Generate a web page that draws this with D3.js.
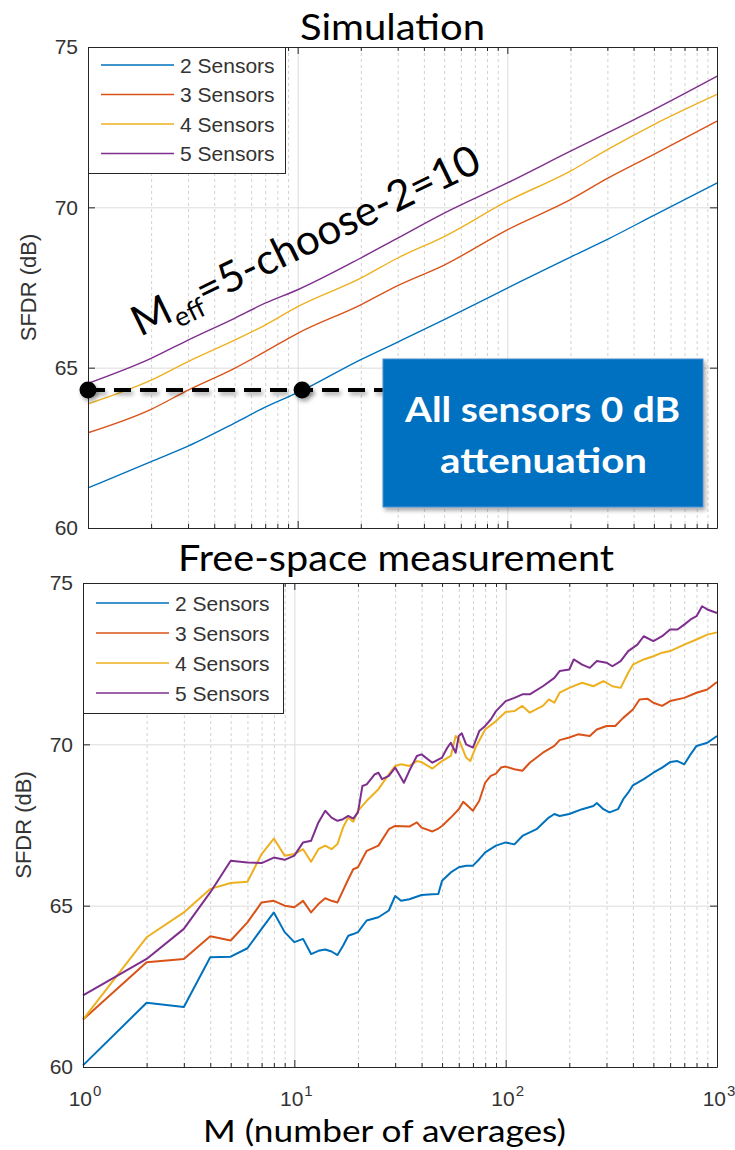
<!DOCTYPE html>
<html>
<head>
<meta charset="utf-8">
<script src="https://cdn.jsdelivr.net/npm/d3@7"></script>
<style>
  body { margin: 0; background: #fff; }
  svg { display: block; }
</style>
</head>
<body>
<svg id="chart" width="735" height="1150"></svg>
<script>
// ---- Series names and colours ----
const seriesNames = ["2 Sensors", "3 Sensors", "4 Sensors", "5 Sensors"];
const seriesColors = ["#0072BD", "#D95319", "#EDB120", "#7E2F8E"];

// ---- Axis ticks ----
const yTicks = [60, 65, 70, 75];
const xMajorTicks = [1, 10, 100, 1000];
const xTickExponents = ["0", "1", "2", "3"];

// ---- Simulation (SFDR in dB vs number of averages M) ----
const simM = [1, 2, 3, 5, 7, 10, 20, 30, 50, 100, 200, 300, 500, 1000];
const sim2 = [61.25, 62.07, 62.55, 63.27, 63.77, 64.22, 65.25, 65.8, 66.5, 67.48, 68.45, 69.0, 69.75, 70.76];
const sim3 = [62.97, 63.7, 64.3, 64.98, 65.5, 66.07, 66.96, 67.56, 68.2, 69.3, 70.24, 70.9, 71.65, 72.69];
const sim4 = [63.87, 64.61, 65.19, 65.86, 66.33, 66.9, 67.79, 68.42, 69.09, 70.19, 71.13, 71.8, 72.58, 73.52];
const sim5 = [64.51, 65.29, 65.86, 66.54, 67.01, 67.43, 68.42, 69.04, 69.82, 70.76, 71.75, 72.32, 73.05, 74.09];

// ---- Free-space measurement ----
const measM2 = [1,2,3,4,5,6,7,8,9,10,11,12,13,14,15,16,17,18,19,20,22,25,28,30,32,35,40,45,48,50,55,60,65,70,75,80,90,100,110,120,140,160,170,180,200,230,260,270,290,310,340,360,380,400,450,500,550,600,650,700,750,800,900,1000];
const meas2 = [60.05,61.99,61.86,63.40,63.42,63.68,64.28,64.79,64.18,63.87,63.97,63.5,63.6,63.64,63.58,63.47,63.76,64.07,64.12,64.18,64.54,64.64,64.85,65.3,65.15,65.2,65.33,65.35,65.36,65.77,66.03,66.19,66.24,66.24,66.44,66.65,66.86,66.96,66.9,67.16,67.37,67.73,67.84,67.78,67.84,67.99,68.09,68.18,67.99,67.89,67.99,68.3,68.5,68.73,68.92,69.12,69.28,69.45,69.48,69.38,69.69,69.95,70.05,70.26];

const measM3 = [1,2,3,4,5,6,7,8,9,10,11,12,13,14,15,16,18,19,20,22,25,28,30,35,38,40,45,48,50,55,60,63,70,75,80,85,90,95,100,110,120,130,150,170,180,200,220,250,270,300,330,360,400,430,470,500,550,600,700,800,900,1000];
const meas3 = [61.47,63.25,63.35,64.05,63.92,64.48,65.1,65.15,65.0,64.95,65.15,64.79,65.05,65.23,65.15,65.1,65.82,66.13,66.19,66.7,66.86,67.37,67.47,67.45,67.58,67.42,67.3,67.39,67.47,67.73,67.99,68.22,67.94,68.25,68.81,69.02,69.09,69.28,69.31,69.23,69.18,69.43,69.74,69.95,70.13,70.21,70.31,70.26,70.46,70.57,70.57,70.82,71.08,71.39,71.41,71.29,71.19,71.34,71.44,71.6,71.7,71.93];

const measM4 = [1,2,3,4,5,6,7,8,9,10,11,12,13,14,15,16,17,18,19,20,22,25,28,30,32,35,38,40,45,50,55,58,60,65,68,72,80,90,100,110,120,130,150,160,170,180,200,230,260,290,320,350,380,400,450,500,550,600,700,800,900,1000];
const meas4 = [61.47,64.02,64.79,65.52,65.7,65.74,66.6,67.08,66.55,66.6,66.75,66.36,66.75,66.86,66.75,66.91,67.42,67.73,67.6,67.94,68.25,68.61,69.07,69.33,69.38,69.33,69.48,69.45,69.25,69.48,69.64,70.26,70.15,69.59,69.48,69.9,70.46,70.72,71.0,71.03,71.19,70.98,71.19,71.39,71.29,71.6,71.75,71.91,71.8,71.96,71.8,71.75,72.22,72.47,72.63,72.73,72.84,72.89,73.09,73.25,73.4,73.47];

const measM5 = [1,2,3,4,5,6,7,8,9,10,11,12,13,14,15,16,17,18,19,20,21,22,24,25,26,28,30,33,35,38,40,45,50,53,55,58,60,62,65,70,75,80,85,90,100,110,120,130,150,170,180,200,210,230,250,270,300,320,350,380,420,450,500,550,600,650,700,750,800,850,900,1000];
const meas5 = [62.22,63.35,64.28,65.41,66.39,66.34,66.32,66.49,66.42,66.55,66.96,67.01,67.58,67.94,67.73,67.63,67.68,67.78,67.7,67.89,68.71,68.76,69.07,69.12,68.92,69.02,69.28,68.81,69.18,69.64,69.69,69.43,69.59,69.9,70.05,69.74,70.26,70.34,70.0,69.9,70.41,70.57,70.77,71.03,71.34,71.44,71.55,71.55,71.8,72.06,72.27,72.32,72.63,72.47,72.37,72.58,72.53,72.42,72.58,72.89,73.09,73.35,73.2,73.35,73.56,73.56,73.71,73.87,73.97,74.28,74.18,74.07];

// ---- Annotation: equal-SFDR reference level and the two matched points ----
const refLevel = 64.3;
const refPointsM = [1, 10.5];

const svg = d3.select("#chart");
const defs = svg.append("defs");
// drop shadow in user space so it also works on a zero-height horizontal line
const shadow = defs.append("filter").attr("id", "shadow")
  .attr("filterUnits", "userSpaceOnUse")
  .attr("x", 0).attr("y", 0).attr("width", 735).attr("height", 1150);
shadow.append("feDropShadow").attr("dx", 2).attr("dy", 3)
  .attr("stdDeviation", 2).attr("flood-color", "#000").attr("flood-opacity", 0.35);

const minorTicks = [];
[1, 10, 100].forEach(d => { for (let k = 2; k <= 9; k++) minorTicks.push(k * d); });

const axisColor = "#262626";
const tickFont = "'Liberation Sans', Arial, sans-serif";

function drawPanel(cfg) {
  const g = svg.append("g");
  const x = d3.scaleLog().domain([1, 1000]).range([cfg.left, cfg.right]);
  const y = d3.scaleLinear().domain([60, 75]).range([cfg.bottom, cfg.top]);
  const h = cfg.bottom - cfg.top;
  const w = cfg.right - cfg.left;

  // minor vertical grid (dotted)
  g.append("g").attr("transform", `translate(0,${cfg.top})`)
    .call(d3.axisBottom(x).tickValues(minorTicks).tickSize(h).tickFormat(""))
    .call(a => {
      a.select(".domain").remove();
      a.selectAll("line").attr("stroke", "#d2d2d2").attr("stroke-dasharray", "3,3");
    });
  // major vertical grid
  g.append("g").attr("transform", `translate(0,${cfg.top})`)
    .call(d3.axisBottom(x).tickValues([10, 100]).tickSize(h).tickFormat(""))
    .call(a => {
      a.select(".domain").remove();
      a.selectAll("line").attr("stroke", "#dcdcdc");
    });
  // horizontal grid
  g.append("g").attr("transform", `translate(${cfg.left},0)`)
    .call(d3.axisRight(y).tickValues([65, 70]).tickSize(w).tickFormat(""))
    .call(a => {
      a.select(".domain").remove();
      a.selectAll("line").attr("stroke", "#dcdcdc");
    });

  // series
  const line = d3.line().x(d => x(d[0])).y(d => y(d[1])).curve(cfg.curve);
  cfg.series.forEach((s, i) => {
    g.append("path")
      .datum(s.m.map((m, j) => [m, s.v[j]]))
      .attr("fill", "none")
      .attr("stroke", seriesColors[i])
      .attr("stroke-width", cfg.lineWidth)
      .attr("stroke-linejoin", "round")
      .attr("d", line);
  });

  // box and inward ticks
  const styleAxis = a => {
    a.select(".domain").attr("stroke", axisColor);
    a.selectAll("line").attr("stroke", axisColor);
  };
  g.append("g").attr("transform", `translate(0,${cfg.bottom})`)
    .call(d3.axisBottom(x).tickValues(xMajorTicks).tickSizeInner(-7).tickSizeOuter(0).tickFormat(""))
    .call(styleAxis);
  g.append("g").attr("transform", `translate(0,${cfg.bottom})`)
    .call(d3.axisBottom(x).tickValues(minorTicks).tickSizeInner(-4).tickSizeOuter(0).tickFormat(""))
    .call(a => { a.select(".domain").remove(); a.selectAll("line").attr("stroke", axisColor); });
  g.append("g").attr("transform", `translate(0,${cfg.top})`)
    .call(d3.axisTop(x).tickValues(xMajorTicks).tickSizeInner(-7).tickSizeOuter(0).tickFormat(""))
    .call(styleAxis);
  g.append("g").attr("transform", `translate(0,${cfg.top})`)
    .call(d3.axisTop(x).tickValues(minorTicks).tickSizeInner(-4).tickSizeOuter(0).tickFormat(""))
    .call(a => { a.select(".domain").remove(); a.selectAll("line").attr("stroke", axisColor); });
  g.append("g").attr("transform", `translate(${cfg.left},0)`)
    .call(d3.axisLeft(y).tickValues(yTicks).tickSizeInner(-7).tickSizeOuter(0).tickPadding(10))
    .call(styleAxis)
    .call(a => a.selectAll("text")
      .attr("font-family", tickFont).attr("font-size", 21).attr("fill", "#333"));
  g.append("g").attr("transform", `translate(${cfg.right},0)`)
    .call(d3.axisRight(y).tickValues(yTicks).tickSizeInner(-7).tickSizeOuter(0).tickFormat(""))
    .call(styleAxis);

  // y-axis title
  g.append("text")
    .attr("transform", `translate(${cfg.left - 52},${(cfg.top + cfg.bottom) / 2}) rotate(-90)`)
    .attr("text-anchor", "middle")
    .attr("font-family", tickFont).attr("font-size", 22).attr("fill", "#333")
    .text("SFDR (dB)");

  // x tick labels (powers of ten): base and raised exponent
  if (cfg.xLabels) {
    const lab = g.append("g");
    xMajorTicks.forEach((t, i) => {
      lab.append("text")
        .attr("x", x(t) + 9).attr("y", cfg.bottom + 39)
        .attr("text-anchor", "end")
        .attr("font-family", tickFont).attr("font-size", 21).attr("fill", "#333")
        .text("10");
      lab.append("text")
        .attr("x", x(t) + 10).attr("y", cfg.bottom + 29)
        .attr("font-family", tickFont).attr("font-size", 15).attr("fill", "#333")
        .text(xTickExponents[i]);
    });
  }

  // legend
  const lg = g.append("g");
  lg.append("rect")
    .attr("x", cfg.left + 0.5).attr("y", cfg.top + 0.5)
    .attr("width", cfg.legendW).attr("height", cfg.legendH)
    .attr("fill", "#fff").attr("stroke", axisColor).attr("stroke-width", 1);
  seriesNames.forEach((name, i) => {
    const ly = cfg.top + cfg.legendRow0 + i * cfg.legendStep;
    lg.append("line")
      .attr("x1", cfg.left + 13).attr("x2", cfg.left + 86)
      .attr("y1", ly).attr("y2", ly)
      .attr("stroke", seriesColors[i]).attr("stroke-width", 1.6);
    lg.append("text")
      .attr("x", cfg.left + 92).attr("y", ly).attr("dy", "0.36em")
      .attr("font-family", tickFont).attr("font-size", 21).attr("fill", "#333")
      .text(name);
  });

  return { x, y, g };
}

// ---- Top panel: simulation ----
const simPanel = drawPanel({
  left: 88, right: 717, top: 47, bottom: 528,
  curve: d3.curveMonotoneX, lineWidth: 1.4, xLabels: false,
  legendW: 197, legendH: 126, legendRow0: 18, legendStep: 29.5,
  series: [
    { m: simM, v: sim2 }, { m: simM, v: sim3 },
    { m: simM, v: sim4 }, { m: simM, v: sim5 }
  ]
});

// ---- Bottom panel: free-space measurement ----
drawPanel({
  left: 83, right: 717, top: 583, bottom: 1067,
  curve: d3.curveLinear, lineWidth: 2, xLabels: true,
  legendW: 200, legendH: 130, legendRow0: 20, legendStep: 30,
  series: [
    { m: measM2, v: meas2 }, { m: measM3, v: meas3 },
    { m: measM4, v: meas4 }, { m: measM5, v: meas5 }
  ]
});

// ---- Titles ----
const titleFont = "Lato, 'Open Sans', sans-serif";
function fitText(sel, len) {
  sel.attr("textLength", len).attr("lengthAdjust", "spacingAndGlyphs");
}
fitText(svg.append("text").attr("x", 300).attr("y", 40)
  .attr("font-family", titleFont).attr("font-size", 37).attr("fill", "#000")
  .text("Simulation"), 185);

fitText(svg.append("text").attr("x", 178).attr("y", 571)
  .attr("font-family", titleFont).attr("font-size", 36).attr("fill", "#000")
  .text("Free-space measurement"), 436);

fitText(svg.append("text").attr("x", 203).attr("y", 1142)
  .attr("font-family", titleFont).attr("font-size", 30).attr("fill", "#000")
  .text("M (number of averages)"), 363);

// ---- Annotation on the simulation panel ----
const ann = svg.append("g");
const refY = simPanel.y(refLevel);
const boxX = 383, boxY = 359, boxW = 320, boxH = 148;

ann.append("line")
  .attr("x1", simPanel.x(refPointsM[0])).attr("x2", boxX)
  .attr("y1", refY).attr("y2", refY)
  .attr("stroke", "#000").attr("stroke-width", 4)
  .attr("stroke-dasharray", "17,9")
  .attr("filter", "url(#shadow)");
ann.selectAll("circle.ref").data(refPointsM).enter().append("circle")
  .attr("class", "ref")
  .attr("cx", d => simPanel.x(d)).attr("cy", refY).attr("r", 8.5)
  .attr("fill", "#000").attr("filter", "url(#shadow)");

ann.append("rect")
  .attr("x", boxX).attr("y", boxY).attr("width", boxW).attr("height", boxH)
  .attr("fill", "#0070C0").attr("stroke", "#4a8fcf").attr("stroke-width", 1)
  .attr("filter", "url(#shadow)");
fitText(ann.append("text").attr("x", 405).attr("y", 422)
  .attr("font-family", titleFont).attr("font-weight", "bold").attr("font-size", 35)
  .attr("fill", "#fff").text("All sensors 0 dB"), 275);
fitText(ann.append("text").attr("x", 440).attr("y", 473)
  .attr("font-family", titleFont).attr("font-weight", "bold").attr("font-size", 35)
  .attr("fill", "#fff").text("attenuation"), 207);

// rotated label along the 5-sensor curve
const rot = ann.append("g").attr("transform", "translate(140,337) rotate(-25.9)");
const meff = rot.append("text")
  .attr("font-family", titleFont).attr("font-size", 42).attr("fill", "#000");
meff.append("tspan").text("M");
meff.append("tspan").attr("font-size", 27).attr("dy", 9).text("eff");
meff.append("tspan").attr("dy", -9).text("=5-choose-2=10");
const meffLen = meff.node().getComputedTextLength();
meff.attr("transform", `scale(${382 / meffLen},1)`);
</script>
</body>
</html>
